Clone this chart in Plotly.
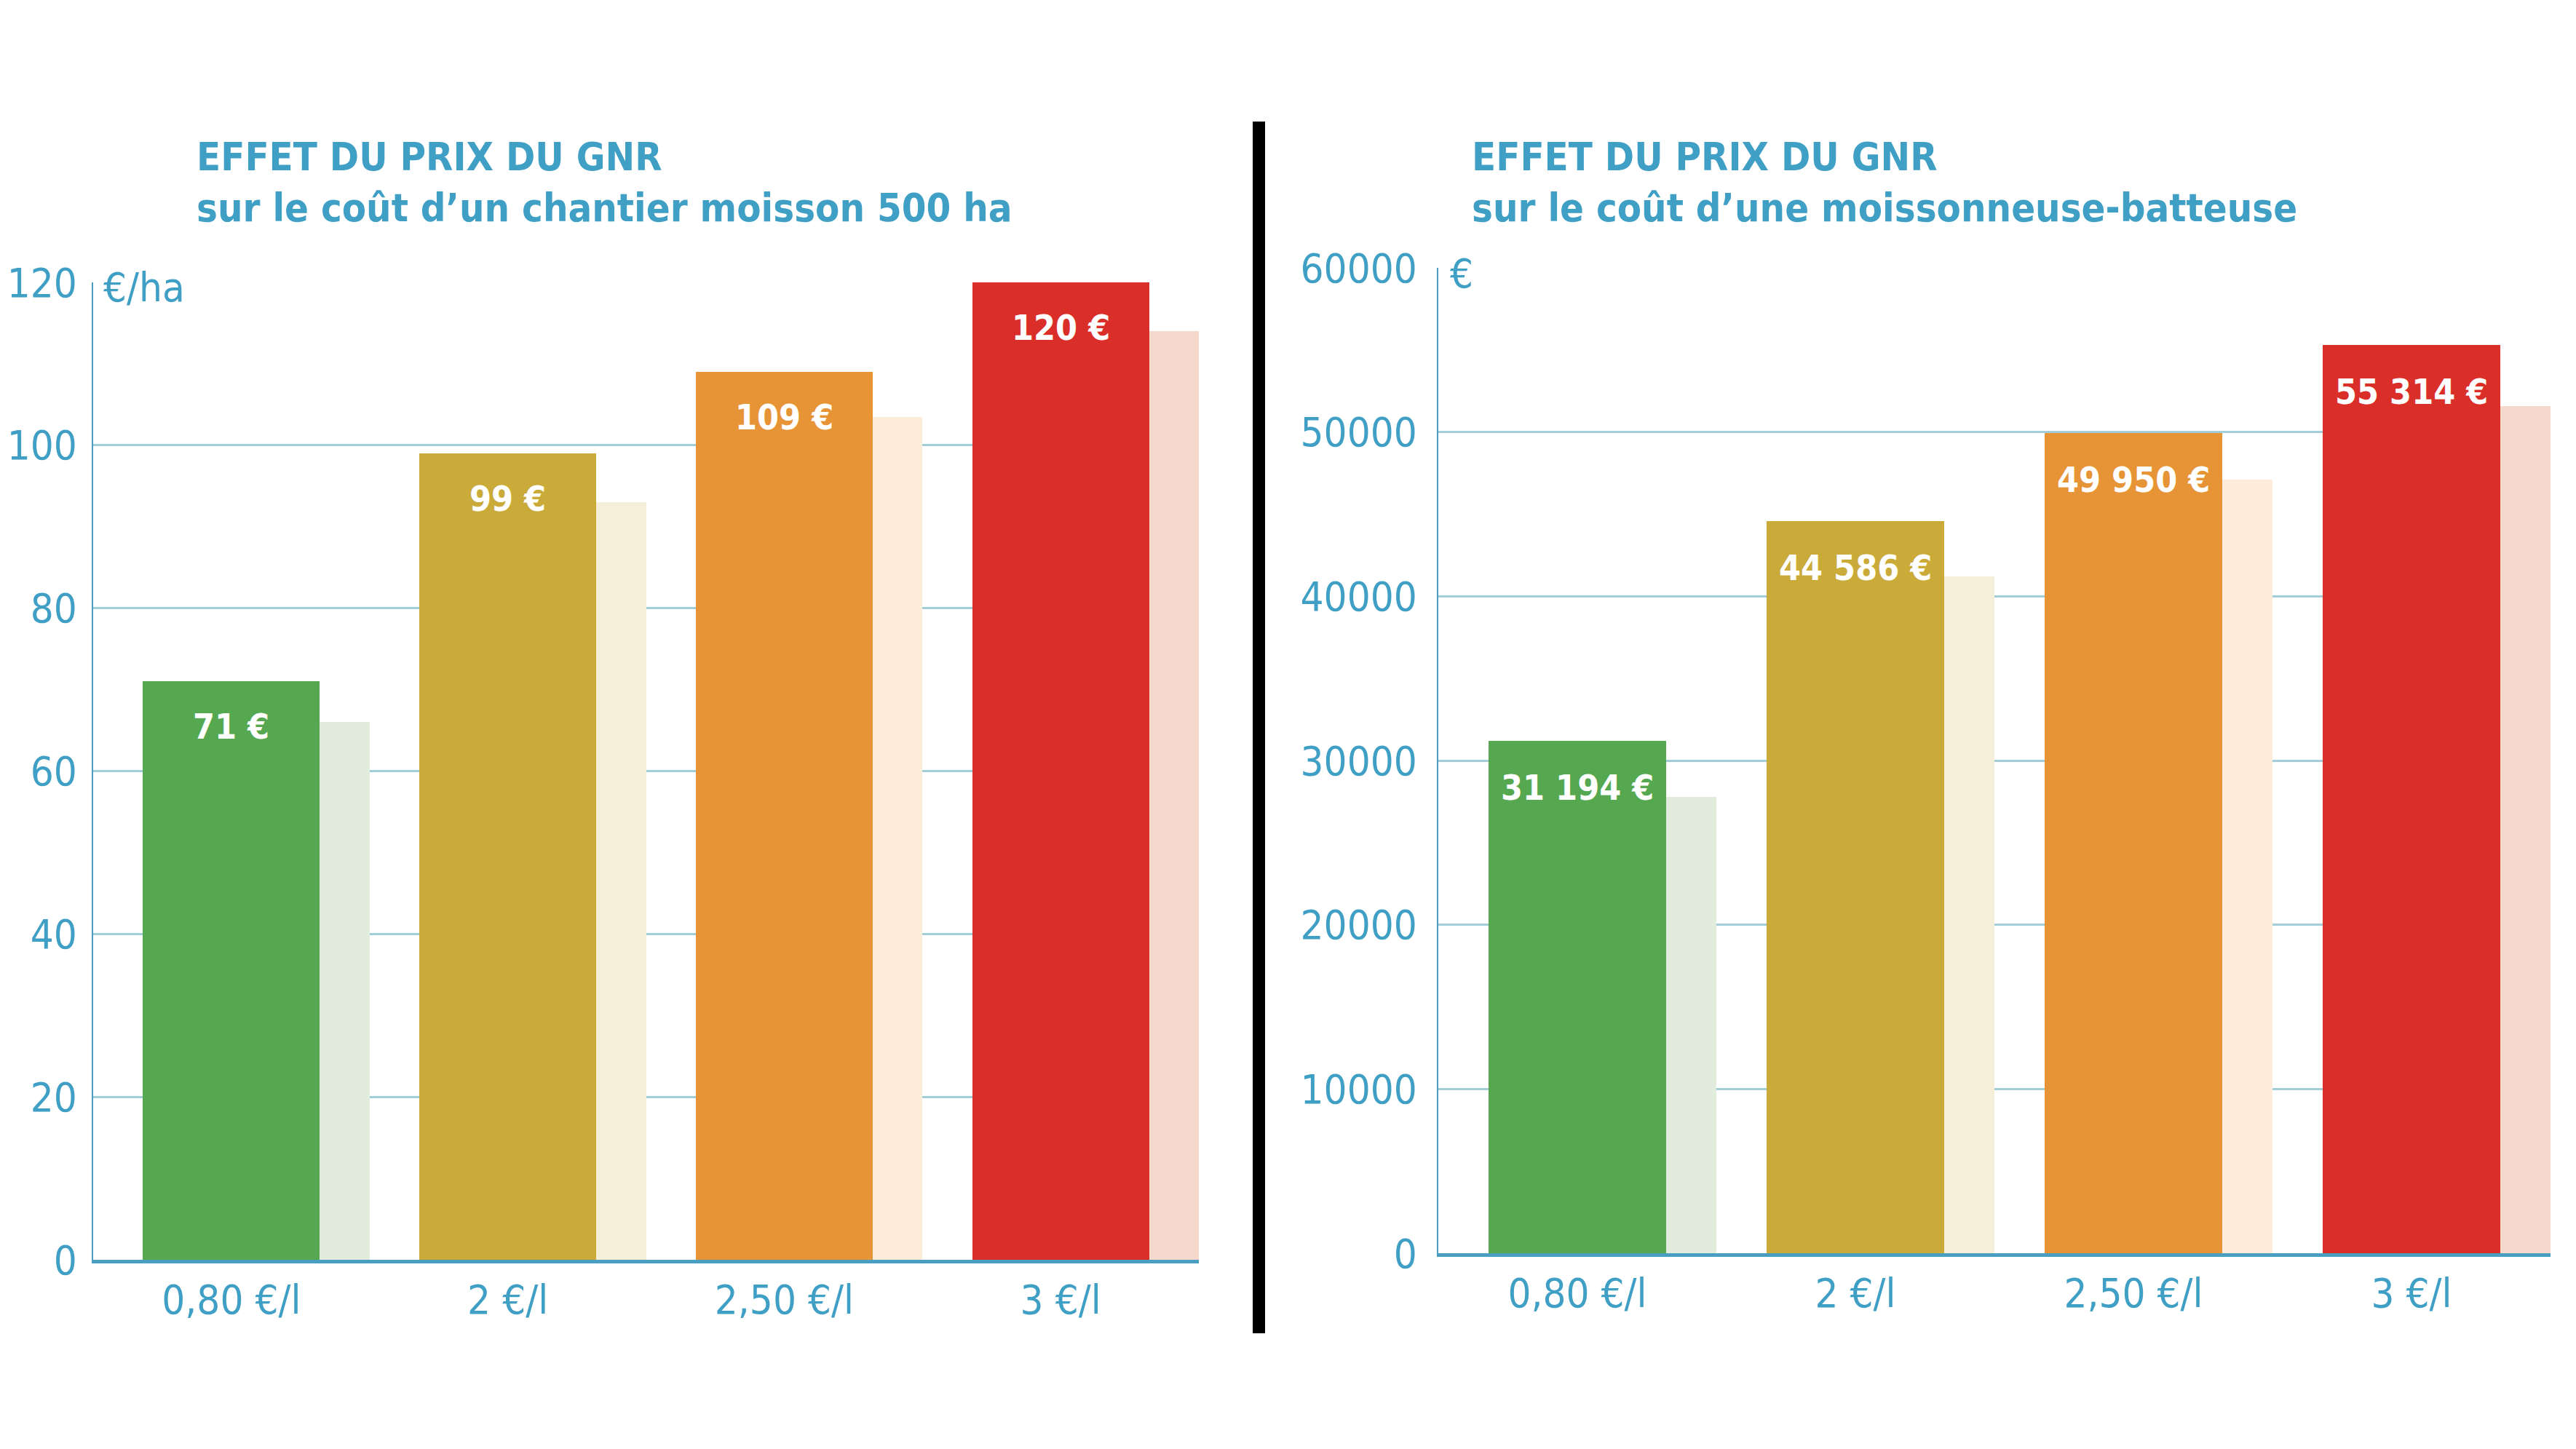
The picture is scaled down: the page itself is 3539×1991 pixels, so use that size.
import plotly.graph_objects as go

# ---------------- data ----------------
categories = ["0,80 €/l", "2 €/l", "2,50 €/l", "3 €/l"]

left_values = [71, 99, 109, 120]
left_shadow = [66, 93, 103.5, 114]
left_ticks = [0, 20, 40, 60, 80, 100, 120]

right_values = [31194, 44586, 49950, 55314]
right_shadow = [27800, 41200, 47100, 51600]
right_ticks = [0, 10000, 20000, 30000, 40000, 50000, 60000]

left_title = ["EFFET DU PRIX DU GNR", "sur le coût d’un chantier moisson 500 ha"]
right_title = ["EFFET DU PRIX DU GNR", "sur le coût d’une moissonneuse-batteuse"]
left_unit = "€/ha"
right_unit = "€"

bar_colors = ["#55a84f", "#caab3a", "#e79437", "#da2f29"]
shadow_colors = ["#e1ecdd", "#f5eed9", "#fcecd9", "#f5d9cc"]

# ---------------- style ----------------
W, H = 3539, 1991
BLUE = "#3f9fc4"
GRID = "#a3cdd9"
NARROW = "Liberation Sans Narrow, DejaVu Sans Condensed, Arial Narrow, sans-serif"
TICK_SIZE = 56
TITLE_SIZE = 54
VALUE_SIZE = 48


def px_x(x):
    return x / W


def px_y(y):
    return 1 - y / H


def fmt_eur(v):
    s = f"{v:,}".replace(",", " ")
    return s + " €"


fig = go.Figure()

# left chart
fig.add_trace(go.Bar(x=categories, y=left_shadow, marker=dict(color=shadow_colors, line=dict(width=0)),
                     width=0.18, offset=0.32, xaxis="x", yaxis="y", hoverinfo="skip", showlegend=False))
fig.add_trace(go.Bar(x=categories, y=left_values, marker=dict(color=bar_colors, line=dict(width=0)),
                     width=0.64, offset=-0.32, xaxis="x", yaxis="y", showlegend=False))
# right chart
fig.add_trace(go.Bar(x=categories, y=right_shadow, marker=dict(color=shadow_colors, line=dict(width=0)),
                     width=0.18, offset=0.32, xaxis="x2", yaxis="y2", hoverinfo="skip", showlegend=False))
fig.add_trace(go.Bar(x=categories, y=right_values, marker=dict(color=bar_colors, line=dict(width=0)),
                     width=0.64, offset=-0.32, xaxis="x2", yaxis="y2", showlegend=False))

common_x = dict(
    type="category", range=[-0.5, 3.5], showgrid=False, zeroline=False,
    showline=True, linecolor="#4a9ec2", linewidth=5, ticks="",
    tickfont=dict(family=NARROW, size=TICK_SIZE, color=BLUE), ticklabelstandoff=2,
    automargin=False, fixedrange=True,
)
common_y = dict(
    showgrid=True, gridcolor=GRID, gridwidth=2.5, zeroline=False,
    showline=True, linecolor="#4a9ec2", linewidth=2, ticks="",
    tickfont=dict(family=NARROW, size=TICK_SIZE, color=BLUE), ticklabelstandoff=9,
    automargin=False, fixedrange=True,
)

fig.update_layout(
    width=W, height=H,
    margin=dict(l=0, r=0, t=0, b=0),
    paper_bgcolor="white", plot_bgcolor="white",
    barmode="overlay", bargap=0,
    showlegend=False,
    xaxis=dict(common_x, domain=[px_x(128), px_x(1647)], anchor="y"),
    yaxis=dict(common_y, domain=[px_y(1731), px_y(388)], range=[0, 120],
               tickvals=left_ticks, anchor="x"),
    xaxis2=dict(common_x, domain=[px_x(1976), px_x(3504)], anchor="y2"),
    yaxis2=dict(common_y, domain=[px_y(1722), px_y(368)], range=[0, 60000],
                tickvals=right_ticks, tickformat="d", anchor="x2", ticklabelstandoff=16),
)

annotations = []
# value labels
for c, v in zip(categories, left_values):
    annotations.append(dict(x=c, y=v, xref="x", yref="y", text=fmt_eur(v), showarrow=False,
                            yanchor="middle", yshift=-62,
                            font=dict(family=NARROW, size=VALUE_SIZE, color="white", weight="bold")))
for c, v in zip(categories, right_values):
    annotations.append(dict(x=c, y=v, xref="x2", yref="y2", text=fmt_eur(v), showarrow=False,
                            yanchor="middle", yshift=-64,
                            font=dict(family=NARROW, size=VALUE_SIZE, color="white", weight="bold")))

# titles
for xpx, lines in ((268, left_title), (2020, right_title)):
    annotations.append(dict(x=px_x(xpx), y=px_y(251), xref="paper", yref="paper",
                            xanchor="left", yanchor="middle", align="left",
                            text="<br>".join(lines), showarrow=False,
                            font=dict(family=NARROW, size=TITLE_SIZE, color=BLUE, weight="bold")))

# unit labels (white background hides the start of the top gridline)
annotations.append(dict(x=px_x(132), y=px_y(394), xref="paper", yref="paper", xanchor="left",
                        yanchor="middle", text=left_unit, showarrow=False,
                        width=124, align="left", bgcolor="white", borderpad=9,
                        font=dict(family=NARROW, size=TICK_SIZE, color=BLUE)))
annotations.append(dict(x=px_x(1979), y=px_y(375), xref="paper", yref="paper", xanchor="left",
                        yanchor="middle", text=right_unit, showarrow=False,
                        width=48, align="left", bgcolor="white", borderpad=12,
                        font=dict(family=NARROW, size=TICK_SIZE, color=BLUE)))

fig.update_layout(annotations=annotations)

# vertical divider
fig.add_shape(type="line", xref="paper", yref="paper",
              x0=px_x(1729.5), x1=px_x(1729.5), y0=px_y(167), y1=px_y(1832),
              line=dict(color="black", width=17))

fig.write_html("out.html")
